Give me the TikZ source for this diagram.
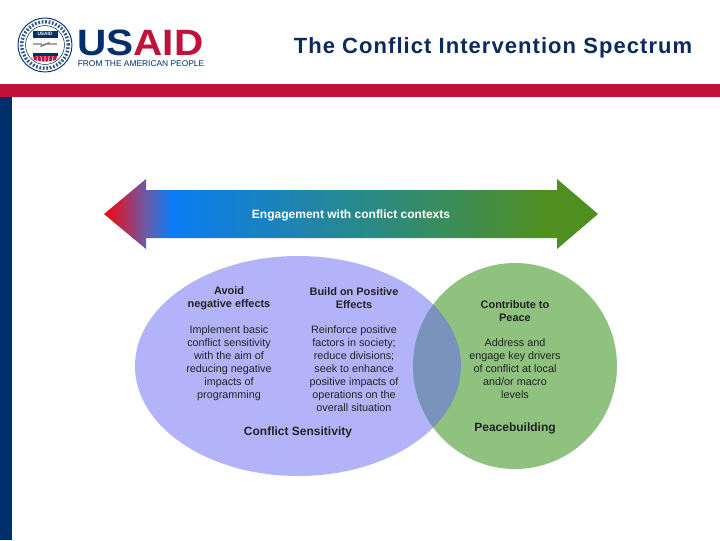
\documentclass[tikz,border=0pt]{standalone}
\usepackage{fontspec}
\setmainfont{Liberation Sans}
\newfontfamily\titlefont[LetterSpace=4.8]{Liberation Sans}
\usetikzlibrary{calc}
\definecolor{usred}{HTML}{C2113A}
\definecolor{usblue}{HTML}{002F6C}
\definecolor{titlec}{HTML}{0B2A5E}
\definecolor{purp}{HTML}{B3B3FA}
\definecolor{grn}{HTML}{8FC17F}
\definecolor{ovl}{HTML}{7A93BC}
\definecolor{ink}{HTML}{222222}
\definecolor{gradred}{HTML}{E5101F}
\definecolor{gradpur}{HTML}{6A5AA8}
\definecolor{gradblu}{HTML}{0A7CF5}
\definecolor{gradtea}{HTML}{2A8A85}
\definecolor{gradgrn}{HTML}{4F8F1F}
\pgfdeclarehorizontalshading{arrowgrad}{100bp}{
 color(0bp)=(gradred);
 color(25.6bp)=(gradred);
 color(29.25bp)=(gradpur);
 color(31.9bp)=(gradblu);
 color(52bp)=(gradtea);
 color(70bp)=(gradgrn);
 color(100bp)=(gradgrn)}
\tikzset{
 body/.style={align=center,text=ink,font=\fontsize{8.1}{9.75}\selectfont,inner sep=0pt},
 head/.style={align=center,text=ink,font=\fontsize{8.2}{9.75}\selectfont\bfseries,inner sep=0pt},
 label/.style={text=ink,font=\fontsize{9}{9.75}\selectfont\bfseries,inner sep=0pt},
}
\begin{document}
\begin{tikzpicture}[x=0.75pt,y=-0.75pt]
\useasboundingbox (0,0) rectangle (720,540);
\fill[white] (0,0) rectangle (720,540);
% bands
\fill[usred] (0,84) rectangle (720,96.5);
\fill[usblue] (0,96.5) rectangle (12,540);
% title
\node[inner sep=0pt,text=titlec,font=\fontsize{16.5}{20}\selectfont\titlefont\bfseries] (title) at (493,47.5) {The Conflict Intervention Spectrum};
% seal
\draw[usblue,line width=0.7pt,fill=white] (45,45) circle [radius=27*0.75pt];
\draw[usblue,line width=0.4pt] (45,45) circle [radius=19.5*0.75pt];
\draw[usblue!80,line width=2.6pt,dash pattern=on 1.3pt off 1.3pt] (45,45) circle [radius=23.3*0.75pt];
\fill[usblue] (32.5,30.5) rectangle (57.5,37.5);
\node[inner sep=0pt,text=white,font=\fontsize{3.6}{4}\selectfont\bfseries] (sealname) at (45,34) {USAID};
\draw[gray!70,line width=1pt] (33,44) -- (42,44) (48,44) -- (57,44);
\draw[gray,line width=1.3pt,line cap=round] (41,46) -- (49,43);
\fill[usblue] (32.5,53) rectangle (57.5,56);
\fill[usred] (33,56) -- (57,56) -- (56,60) to[bend left=15] (34,60) -- cycle;
\draw[white,line width=0.5pt] (37,56)--(37.5,61) (41,56)--(41.5,62) (45,56)--(45,62) (49,56)--(48.5,62) (53,56)--(52.5,61);
% USAID wordmark
\node[inner sep=0pt,anchor=base west,xscale=1.105,text depth=0pt,font=\fontsize{27.5}{32}\selectfont\bfseries] (us) at (77,55) {\textcolor{usblue}{US}\textcolor{usred}{AID}};
\node[inner sep=0pt,anchor=base west,text=usblue,text height=4.5pt,font=\fontsize{6.3}{7}\selectfont] (tag) at (77.5,66.5) {FROM THE AMERICAN PEOPLE};
% arrow
\path[shading=arrowgrad] (104,214) -- (146,179) -- (146,190) -- (557,190) -- (557,179) -- (598,214) -- (557,249) -- (557,238) -- (146,238) -- (146,249) -- cycle;
\node[inner sep=0pt,text=white,font=\fontsize{9}{10}\selectfont\bfseries] (arrowtext) at (351,215) {Engagement with conflict contexts};
% venn
\fill[purp] (298,366) circle [x radius=163*0.75pt,y radius=110*0.75pt];
\fill[grn] (515,366) circle [x radius=102*0.75pt,y radius=103*0.75pt];
\begin{scope}
\clip (298,366) circle [x radius=163*0.75pt,y radius=110*0.75pt];
\fill[ovl] (515,366) circle [x radius=102*0.75pt,y radius=103*0.75pt];
\end{scope}
% texts
\node[head] (h1) at (229,298) {Avoid\\negative effects};
\node[body] (b1) at (229,363) {Implement basic\\conflict sensitivity\\with the aim of\\reducing negative\\impacts of\\programming};
\node[head] (h2) at (354,298) {Build on Positive\\Effects};
\node[body] (b2) at (354,369) {Reinforce positive\\factors in society;\\reduce divisions;\\seek to enhance\\positive impacts of\\operations on the\\overall situation};
\node[label] (l1) at (298,432.5) {Conflict Sensitivity};
\node[head] (h3) at (515,311) {Contribute to\\Peace};
\node[body] (b3) at (515,369) {Address and\\engage key drivers\\of conflict at local\\and/or macro\\levels};
\node[label] (l2) at (515,428) {Peacebuilding};
\end{tikzpicture}
\end{document}
